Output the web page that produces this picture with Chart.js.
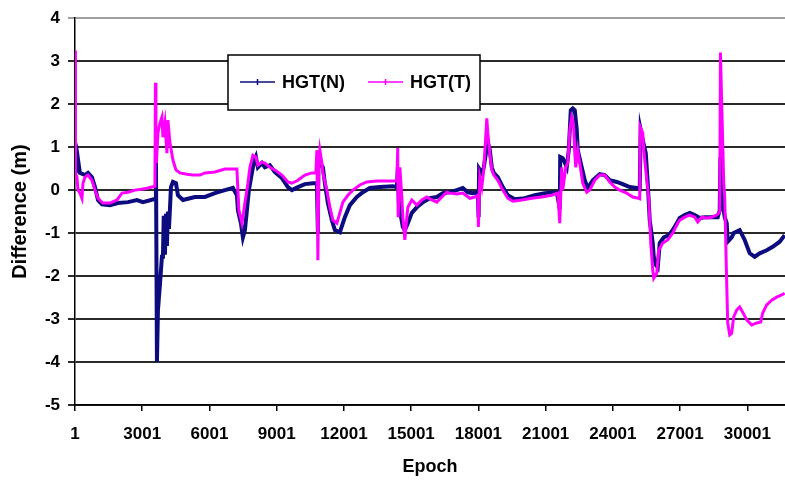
<!DOCTYPE html>
<html>
<head>
<meta charset="utf-8">
<script src="https://cdn.jsdelivr.net/npm/chart.js@4.4.1/dist/chart.umd.min.js"></script>
<style>
  html, body { margin: 0; padding: 0; background: #fff; }
  #wrap { width: 785px; height: 482px; }
</style>
</head>
<body>
<div id="wrap"><canvas id="myChart" width="785" height="482"></canvas></div>
<script>
// tick labels
var xTicks = [1, 3001, 6001, 9001, 12001, 15001, 18001, 21001, 24001, 27001, 30001];
var yTicks = [-5, -4, -3, -2, -1, 0, 1, 2, 3, 4];

// HGT(N)
var nEpoch = [1, 30, 120, 220, 446, 580, 758, 892, 1026, 1204, 1561, 1918, 2364, 2764, 3032,
  3590, 3613, 3657, 3702, 3791, 3880, 3925, 3960, 4014, 4060, 4103, 4148, 4192, 4237, 4282, 4371, 4505, 4594, 4817, 5129,
  5352, 5798, 6244, 6690, 7047, 7225, 7270, 7404, 7493, 7582, 7671, 7760, 7894, 7983, 8073, 8162, 8340, 8474, 8697, 8920,
  9232, 9500, 9678, 9946, 10258, 10615, 10793, 10838, 10860, 10927, 11061, 11150, 11284, 11462, 11596, 11819, 12042, 12265,
  12577, 12845, 13157, 13603, 14183, 14361, 14406, 14450, 14540, 14629, 14718, 14852, 15030, 15253, 15521, 15833, 16145,
  16413, 16725, 17037, 17305, 17528, 17751, 17974, 18010, 18030, 18152, 18241, 18375, 18420, 18509, 18598, 18687, 18866,
  19089, 19312, 19624, 20070, 20516, 20962, 21497, 21631, 21650, 21765, 21943, 22032, 22122, 22211, 22300, 22389, 22434,
  22612, 22746, 22880, 23103, 23415, 23638, 23861, 24173, 24441, 24753, 25065, 25199, 25240, 25333, 25467, 25556, 25645,
  25779, 25824, 25913, 26002, 26091, 26270, 26493, 26671, 26850, 26983, 27206, 27429, 27652, 27875, 28098, 28410, 28678,
  28767, 28800, 28856, 28901, 28990, 29079, 29124, 29302, 29391, 29659, 29882, 30105, 30328, 30551, 30863, 31131, 31443, 31666];
var nDiff = [0.86, 0.4, 0.77, 0.4, 0.35, 0.4, 0.3, 0.07, -0.23, -0.33, -0.35, -0.3, -0.28, -0.23, -0.28,
  -0.2, 0.77, -4.0, -2.8, -2.2, -1.55, -1.55, -0.6, -1.5, -0.55, -1.3, -0.5, -0.9, -0.45, 0.07, 0.19, 0.16, -0.12, -0.23, -0.19,
  -0.16, -0.16, -0.07, 0, 0.05, -0.12, -0.47, -0.77, -1.1, -0.93, -0.47, 0, 0.4, 0.65, 0.77, 0.53, 0.63, 0.53, 0.58, 0.42,
  0.28, 0.07, 0, 0.07, 0.14, 0.16, 0.16, -0.98, 0.63, 0.63, 0.53, 0.16, -0.3, -0.7, -0.93, -0.98, -0.63, -0.35,
  -0.16, -0.05, 0.05, 0.07, 0.09, 0.07, 0.5, -0.3, -0.6, -0.86, -0.93, -0.77, -0.53, -0.4, -0.28, -0.19, -0.16,
  -0.07, -0.05, 0, 0.05, -0.05, -0.07, -0.05, -0.63, 0.5, 0.4, 0.53, 1.0, 1.1, 0.93, 0.53, 0.4, 0.3,
  0.07, -0.12, -0.21, -0.19, -0.12, -0.07, -0.05, -0.44, 0.77, 0.74, 0.53, 0.93, 1.86, 1.9, 1.86, 1.4, 0.93,
  0.53, 0.23, 0.05, 0.23, 0.37, 0.35, 0.23, 0.19, 0.14, 0.07, 0.05, 0.03, 1.4, 1.16, 0.86, 0.16, -0.7,
  -1.23, -1.55, -1.74, -1.8, -1.23, -1.1, -1.05, -0.93, -0.77, -0.65, -0.58, -0.53, -0.58, -0.65, -0.63, -0.63, -0.63,
  -0.47, 0.77, 0.16, -0.3, -0.63, -0.77, -1.2, -1.1, -1.0, -0.93, -1.16, -1.47, -1.55, -1.47, -1.4, -1.32, -1.2, -1.05];

// HGT(T)
var tEpoch = [1, 10, 20, 30, 89, 134, 223, 312, 357, 446, 580, 758, 892, 1026, 1249, 1561, 1873, 2096, 2364, 2676, 2988,
  3256, 3568, 3590, 3613, 3635, 3702, 3791, 3880, 3925, 4014, 4103, 4148, 4237, 4371, 4505, 4683, 4995, 5263, 5575,
  5798, 6244, 6690, 7225, 7270, 7314, 7448, 7493, 7582, 7716, 7805, 7939, 8073, 8162, 8340, 8474, 8697, 8920, 9232,
  9500, 9678, 9946, 10258, 10570, 10749, 10793, 10838, 10882, 10927, 11016, 11061, 11239, 11373, 11507, 11685, 11819,
  11953, 12176, 12399, 12711, 13024, 13469, 13915, 14361, 14400, 14420, 14495, 14584, 14629, 14718, 14807, 14852, 15030,
  15253, 15476, 15699, 15922, 16145, 16368, 16591, 16725, 17037, 17305, 17617, 17840, 17974, 18000, 18063, 18152, 18241,
  18375, 18420, 18509, 18598, 18687, 18866, 19089, 19312, 19536, 19936, 20382, 20828, 21274, 21542, 21631, 21720, 21765,
  21899, 21988, 22077, 22166, 22211, 22256, 22300, 22345, 22434, 22568, 22657, 22835, 22969, 23192, 23415, 23638, 23861,
  24084, 24307, 24619, 24887, 25154, 25199, 25220, 25333, 25378, 25467, 25600, 25690, 25779, 25824, 25958, 26046, 26225,
  26448, 26671, 26894, 26983, 27206, 27429, 27652, 27786, 27964, 28187, 28410, 28633, 28767, 28800, 28856, 28946, 28990,
  29079, 29124, 29213, 29302, 29391, 29525, 29659, 29793, 29971, 30194, 30417, 30596, 30685, 30863, 31086, 31309, 31532, 31666];
var tDiff = [3.25, 1.8, 1.0, 0.4, 0.3, 0, -0.07, -0.19, 0.16, 0.3, 0.35, 0.23, 0, -0.19, -0.3, -0.3, -0.23, -0.07, -0.05, 0, 0.02,
  0.05, 0.09, 2.5, 1.4, 0.63, 1.33, 1.56, 1.7, 1.23, 1.56, 0.86, 1.63, 1.1, 0.7, 0.47, 0.4, 0.37, 0.35, 0.35,
  0.4, 0.42, 0.49, 0.49, 0, -0.47, -0.77, -0.63, -0.3, 0.16, 0.53, 0.81, 0.77, 0.58, 0.65, 0.63, 0.53, 0.47, 0.35,
  0.19, 0.16, 0.23, 0.35, 0.4, 0.4, 0.93, -1.63, 0.63, 0.93, 0.63, 0.4, 0, -0.4, -0.7, -0.77, -0.53,
  -0.28, -0.12, 0, 0.12, 0.19, 0.21, 0.21, 0.21, 0.98, -0.63, 0.53, -0.16, -0.63, -1.16, -0.63, -0.4, -0.23,
  -0.35, -0.23, -0.16, -0.23, -0.28, -0.16, -0.05, -0.07, -0.09, -0.07, -0.19, -0.16, -0.12, -0.86, 0.3, 0.07, 0.47,
  1.67, 1.33, 0.86, 0.47, 0.35, 0.23, 0, -0.19, -0.26, -0.23, -0.19, -0.16, -0.12, -0.07, -0.77, 0.53, 0,
  0.53, 0.63, 1.4, 1.7, 1.63, 1.4, 0.86, 0.53, 0.93, 0.47, 0.16, -0.05, 0, 0.23, 0.35, 0.35, 0.19,
  0.07, 0, -0.07, -0.16, -0.19, -0.2, 1.47, 1.33, 0.93, 0.47, -0.2, -1.23, -1.86, -2.05, -1.93, -1.4, -1.23,
  -1.16, -1.0, -0.77, -0.7, -0.63, -0.58, -0.63, -0.74, -0.63, -0.65, -0.63, -0.58, -0.51, 3.2, 2.02, 0.16, -0.16,
  -2.16, -3.09, -3.37, -3.33, -2.95, -2.79, -2.72, -2.84, -3.02, -3.14, -3.09, -3.07, -2.86, -2.67, -2.56, -2.49, -2.44, -2.4];

var fontFam = "'Liberation Sans', Arial, sans-serif";

// legend box drawn inside the plot, like the original
var boxLegend = {
	id: 'boxLegend',
	afterDraw: function (chart) {
		var ctx = chart.ctx;
		ctx.save();
		ctx.fillStyle = '#fff';
		ctx.fillRect(228, 55, 252, 55);
		ctx.strokeStyle = '#000';
		ctx.lineWidth = 1.5;
		ctx.strokeRect(228, 55, 252, 55);
		var xs = [240, 368];
		ctx.font = 'bold 18px ' + fontFam;
		ctx.textBaseline = 'middle';
		chart.data.datasets.forEach(function (ds, i) {
			var x = xs[ds.legendIdx];
			ctx.strokeStyle = ds.borderColor;
			ctx.lineWidth = 1.5;
			ctx.beginPath();
			ctx.moveTo(x, 82);
			ctx.lineTo(x + 35, 82);
			ctx.moveTo(x + 17.5, 79);
			ctx.lineTo(x + 17.5, 85);
			ctx.stroke();
			ctx.fillStyle = '#000';
			ctx.fillText(ds.label, x + 42, 83);
		});
		ctx.restore();
	}
};

var ctx = document.getElementById('myChart').getContext('2d');
var chart = new Chart(ctx, {
	type: 'line',
	data: {
		datasets: [{
			label: 'HGT(N)',
			legendIdx: 0,
			data: nEpoch.map(function (x, i) { return { x: x, y: nDiff[i] }; }),
			borderColor: '#0c0c7e',
			borderWidth: 4,
			pointRadius: 0,
			tension: 0,
			order: 2
		}, {
			label: 'HGT(T)',
			legendIdx: 1,
			data: tEpoch.map(function (x, i) { return { x: x, y: tDiff[i] }; }),
			borderColor: '#ff00ff',
			borderWidth: 3,
			pointRadius: 0,
			tension: 0,
			order: 1
		}]
	},
	options: {
		responsive: false,
		animation: false,
		layout: { padding: { top: 18, right: 0, left: 0, bottom: 0 } },
		plugins: { legend: { display: false }, tooltip: { enabled: false } },
		scales: {
			x: {
				type: 'linear',
				min: 1,
				max: 31680,
				afterBuildTicks: function (s) { s.ticks = xTicks.map(function (v) { return { value: v }; }); },
				afterFit: function (s) { s.height = 77; },
				grid: { drawOnChartArea: false, drawTicks: true, tickLength: 6, color: '#000', lineWidth: 1.5 },
				border: { display: true, color: '#000', width: 1.5 },
				ticks: {
					color: '#000', padding: 13, maxRotation: 0, autoSkip: false,
					font: { family: fontFam, size: 17, weight: 'bold' },
					callback: function (v) { return String(v); }
				},
				title: { display: true, text: 'Epoch', color: '#000', padding: { top: 0, bottom: 4 }, font: { family: fontFam, size: 18, weight: 'bold' } }
			},
			y: {
				min: -5,
				max: 4,
				afterBuildTicks: function (s) { s.ticks = yTicks.map(function (v) { return { value: v }; }); },
				afterFit: function (s) { s.width = 75; },
				grid: {
					drawTicks: true,
					tickLength: 7,
					lineWidth: 2,
					color: function (c) { return c.tick && c.tick.value === 4 ? '#a0a0a0' : '#2a2a2a'; }
				},
				border: { display: true, color: '#000', width: 1.5 },
				ticks: {
					color: '#000', padding: 8,
					font: { family: fontFam, size: 17, weight: 'bold' },
					callback: function (v) { return String(v); }
				},
				title: { display: true, text: 'Difference (m)', color: '#000', padding: { top: 8, bottom: 0 }, font: { family: fontFam, size: 20, weight: 'bold' } }
			}
		}
	},
	plugins: [boxLegend]
});
</script>
</body>
</html>
